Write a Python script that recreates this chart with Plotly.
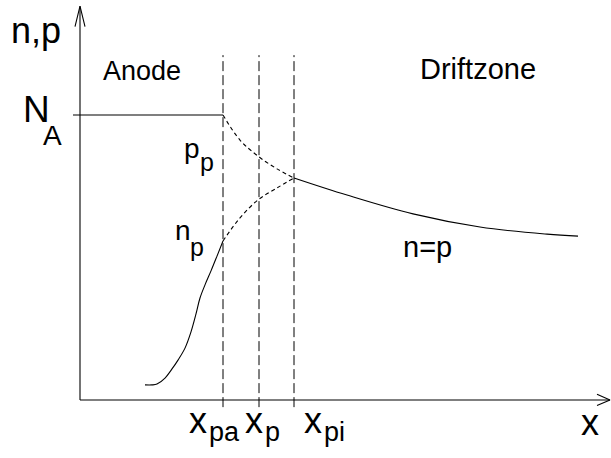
import plotly.graph_objects as go

# Carrier densities, normalised to the acceptor doping N_A, versus position x
x_pa, x_p, x_pi = 1.43, 1.79, 2.14

# n_p rising out of the anode (solid part)
np_x = [0.65, 0.72, 0.77, 0.85, 0.92, 0.98, 1.05, 1.11, 1.16, 1.20, 1.25, 1.31, 1.37, 1.43]
np_y = [0.053, 0.053, 0.056, 0.077, 0.109, 0.140, 0.182, 0.239, 0.302, 0.358, 0.404, 0.453, 0.505, 0.558]

# n_p inside the transition region (dashed)
npd_x = [1.43, 1.60, 1.78, 1.97, 2.14]
npd_y = [0.558, 0.639, 0.702, 0.744, 0.779]

# p_p falling from N_A (dashed)
pp_x = [1.43, 1.60, 1.79, 1.97, 2.14]
pp_y = [1.0, 0.912, 0.853, 0.811, 0.779]

# n = p in the drift zone
nd_x = [2.14, 2.67, 3.33, 4.00, 4.67, 4.98]
nd_y = [0.779, 0.719, 0.653, 0.607, 0.582, 0.575]

# acceptor level in the anode
na_x = [-0.07, 1.43]
na_y = [1.0, 1.0]

boundaries = [x_pa, x_p, x_pi]
boundary_subs = ["pa", "p", "pi"]

FONT = "Liberation Sans, Arial, Helvetica, sans-serif"
BLACK = "#000000"

fig = go.Figure()

def line(xs, ys, dash="solid", width=1.1, shape="linear"):
    fig.add_trace(go.Scatter(
        x=xs, y=ys, mode="lines", hoverinfo="skip", showlegend=False,
        line=dict(color=BLACK, width=width, dash=dash, shape=shape),
    ))

# axes with open arrow heads
line([0, 0], [0, 1.382])
line([-0.05, 0, 0.05], [1.31, 1.382, 1.31])
line([0, 5.30], [0, 0])
line([5.17, 5.30, 5.17], [0.020, 0.0, -0.019])

# region boundaries
for b in boundaries:
    line([b, b], [-0.025, 1.21], dash="10px,4px", width=1.0)

# density curves
line(na_x, na_y)
line(np_x, np_y, shape="spline")
line(npd_x, npd_y, dash="4px,3px", shape="spline")
line(pp_x, pp_y, dash="4px,3px", shape="spline")
line(nd_x, nd_y, shape="spline")

def label(text, x, y, size):
    fig.add_annotation(
        x=x, y=y, text=text, showarrow=False, xanchor="center", yanchor="middle",
        font=dict(family=FONT, size=size, color=BLACK),
    )

def sub_label(base, bx, by, bsize, sub, sx, sy, ssize):
    label(base, bx, by, bsize)
    label(sub, sx, sy, ssize)

label("n,p", -0.44, 1.295, 36)
label("Anode", 0.62, 1.156, 27)
label("Driftzone", 3.98, 1.161, 29)
label("n=p", 3.47, 0.537, 29)

sub_label("N", -0.44, 1.020, 37, "A", -0.28, 0.929, 28)
sub_label("p", 1.115, 0.883, 28, "p", 1.27, 0.834, 25)
sub_label("n", 1.025, 0.595, 28, "p", 1.17, 0.536, 25)

# position labels under the axis
tick_base_x = [1.175, 1.74, 2.325]
tick_sub_x = [1.44, 1.92, 2.54]
for s, tx, sx in zip(boundary_subs, tick_base_x, tick_sub_x):
    sub_label("x", tx, -0.072, 36, s, sx, -0.111, 27)
label("x", 5.095, -0.079, 36)

fig.update_layout(
    width=611, height=458,
    margin=dict(l=0, r=0, t=0, b=0),
    paper_bgcolor="white", plot_bgcolor="white",
    xaxis=dict(range=[-0.8, 5.31], visible=False, fixedrange=True),
    yaxis=dict(range=[-0.2035, 1.4035], visible=False, fixedrange=True),
    showlegend=False,
)

fig.write_html("out.html")
